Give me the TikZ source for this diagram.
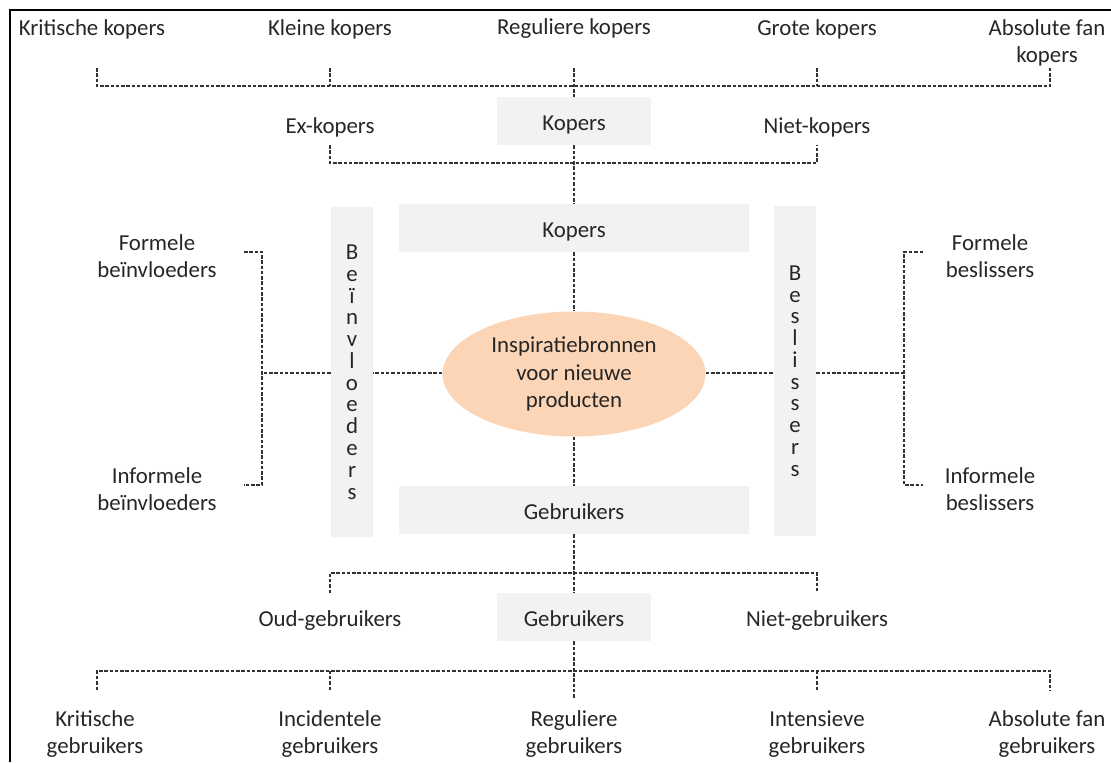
\documentclass[tikz,border=0pt]{standalone}
\usepackage{fontspec}
\setmainfont{Carlito}
\usetikzlibrary{shapes.geometric}
\definecolor{boxgray}{HTML}{F2F2F2}
\definecolor{peach}{HTML}{FBD5B5}
\definecolor{ink}{HTML}{262626}

\begin{document}
\begin{tikzpicture}[x=0.02cm,y=-0.02cm,
  lbl/.style={font=\fontsize{13}{15.6}\selectfont,align=center,text=ink,inner sep=0pt},
  gbox/.style={lbl,fill=boxgray,minimum width=3.1cm,minimum height=0.96cm,text height=11pt,text depth=0pt},
  wbox/.style={gbox,minimum width=7cm},
  vbox/.style={lbl,fill=boxgray,minimum width=0.84cm,minimum height=6.6cm,font=\fontsize{13}{12.4}\selectfont},
  dl/.style={dash pattern=on 2pt off 1pt,line width=0.6pt,black!80}]
\useasboundingbox (0,0) rectangle (1111,762);
\draw[line width=1.5pt] (10,762) -- (10,10) -- (1111,10);

\node[lbl] (kritk) at (92,29) {Kritische kopers};
\node[lbl] (kleink) at (330,29) {Kleine kopers};
\node[lbl] (regk) at (574,29) {Reguliere kopers};
\node[lbl] (grotek) at (817,29) {Grote kopers};
\node[lbl] (fank) at (1047,43) {Absolute fan\\kopers};
\node[gbox] (kop1) at (574,121) {Kopers};
\node[lbl] (exk) at (330,127) {Ex-kopers};
\node[lbl] (nietk) at (817,127) {Niet-kopers};
\node[wbox] (kop2) at (574,228) {Kopers};
\node[lbl,ellipse,fill=peach,minimum width=5.26cm,minimum height=2.5cm] (insp) at (574,374) {Inspiratiebronnen\\voor nieuwe\\producten};
\node[wbox] (geb2) at (574,510) {Gebruikers};
\node[gbox] (geb1) at (574,617) {Gebruikers};
\node[lbl] (oudg) at (330,621) {Oud-gebruikers};
\node[lbl] (nietg) at (817,621) {Niet-gebruikers};
\node[lbl] (kritg) at (95,734) {Kritische\\gebruikers};
\node[lbl] (incg) at (330,734) {Incidentele\\gebruikers};
\node[lbl] (regg) at (574,734) {Reguliere\\gebruikers};
\node[lbl] (intg) at (817,734) {Intensieve\\gebruikers};
\node[lbl] (fang) at (1047,734) {Absolute fan\\gebruikers};
\node[vbox] (bein) at (352,372) {B\\e\\ï\\n\\v\\l\\o\\e\\d\\e\\r\\s};
\node[vbox] (besl) at (795,371) {B\\e\\s\\l\\i\\s\\s\\e\\r\\s};
\node[lbl] (formb) at (157,256) {Formele\\beïnvloeders};
\node[lbl] (infb) at (157,489) {Informele\\beïnvloeders};
\node[lbl] (forms) at (990,256) {Formele\\beslissers};
\node[lbl] (infs) at (990,489) {Informele\\beslissers};

\coordinate (t1) at (97,68);
\coordinate (t2) at (330,68);
\coordinate (t3) at (574,68);
\coordinate (t4) at (817,68);
\coordinate (t5) at (1050,68);
\coordinate (tb) at (1050,86);
\coordinate (e1) at (330,145);
\coordinate (e2) at (817,145);
\coordinate (eb) at (817,163);
\coordinate (o1) at (330,593);
\coordinate (o2) at (817,593);
\coordinate (ob) at (817,573);
\coordinate (u1) at (97,690);
\coordinate (u2) at (330,690);
\coordinate (u3) at (574,698);
\coordinate (u4) at (817,690);
\coordinate (u5) at (1050,690);
\coordinate (ub) at (1050,671);
\coordinate (lm) at (262,373);
\coordinate (lf) at (244,252);
\coordinate (li) at (244,485);
\coordinate (rm) at (904,373);
\coordinate (rf) at (923,252);
\coordinate (ri) at (923,485);

\draw[dl] (t1) |- (tb) -- (t5);
\draw[dl] (t2) -- (t2 |- tb);
\draw[dl] (t4) -- (t4 |- tb);
\draw[dl] (t3) -- (kop1);
\draw[dl] (e1) |- (eb) -- (e2);
\draw[dl] (kop1) -- (kop2);
\draw[dl] (kop2) -- (insp);
\draw[dl] (insp) -- (geb2);
\draw[dl] (geb2) -- (geb1);
\draw[dl] (o1) |- (ob) -- (o2);
\draw[dl] (u1) |- (ub) -- (u5);
\draw[dl] (u2) -- (u2 |- ub);
\draw[dl] (u4) -- (u4 |- ub);
\draw[dl] (geb1) -- (u3);
\draw[dl] (insp.west |- lm) -- (bein.east |- lm);
\draw[dl] (bein.west |- lm) -- (lm);
\draw[dl] (lf) -| (lm) |- (li);
\draw[dl] (insp.east |- rm) -- (besl.west |- rm);
\draw[dl] (besl.east |- rm) -- (rm);
\draw[dl] (rf) -| (rm) |- (ri);
\end{tikzpicture}
\end{document}
